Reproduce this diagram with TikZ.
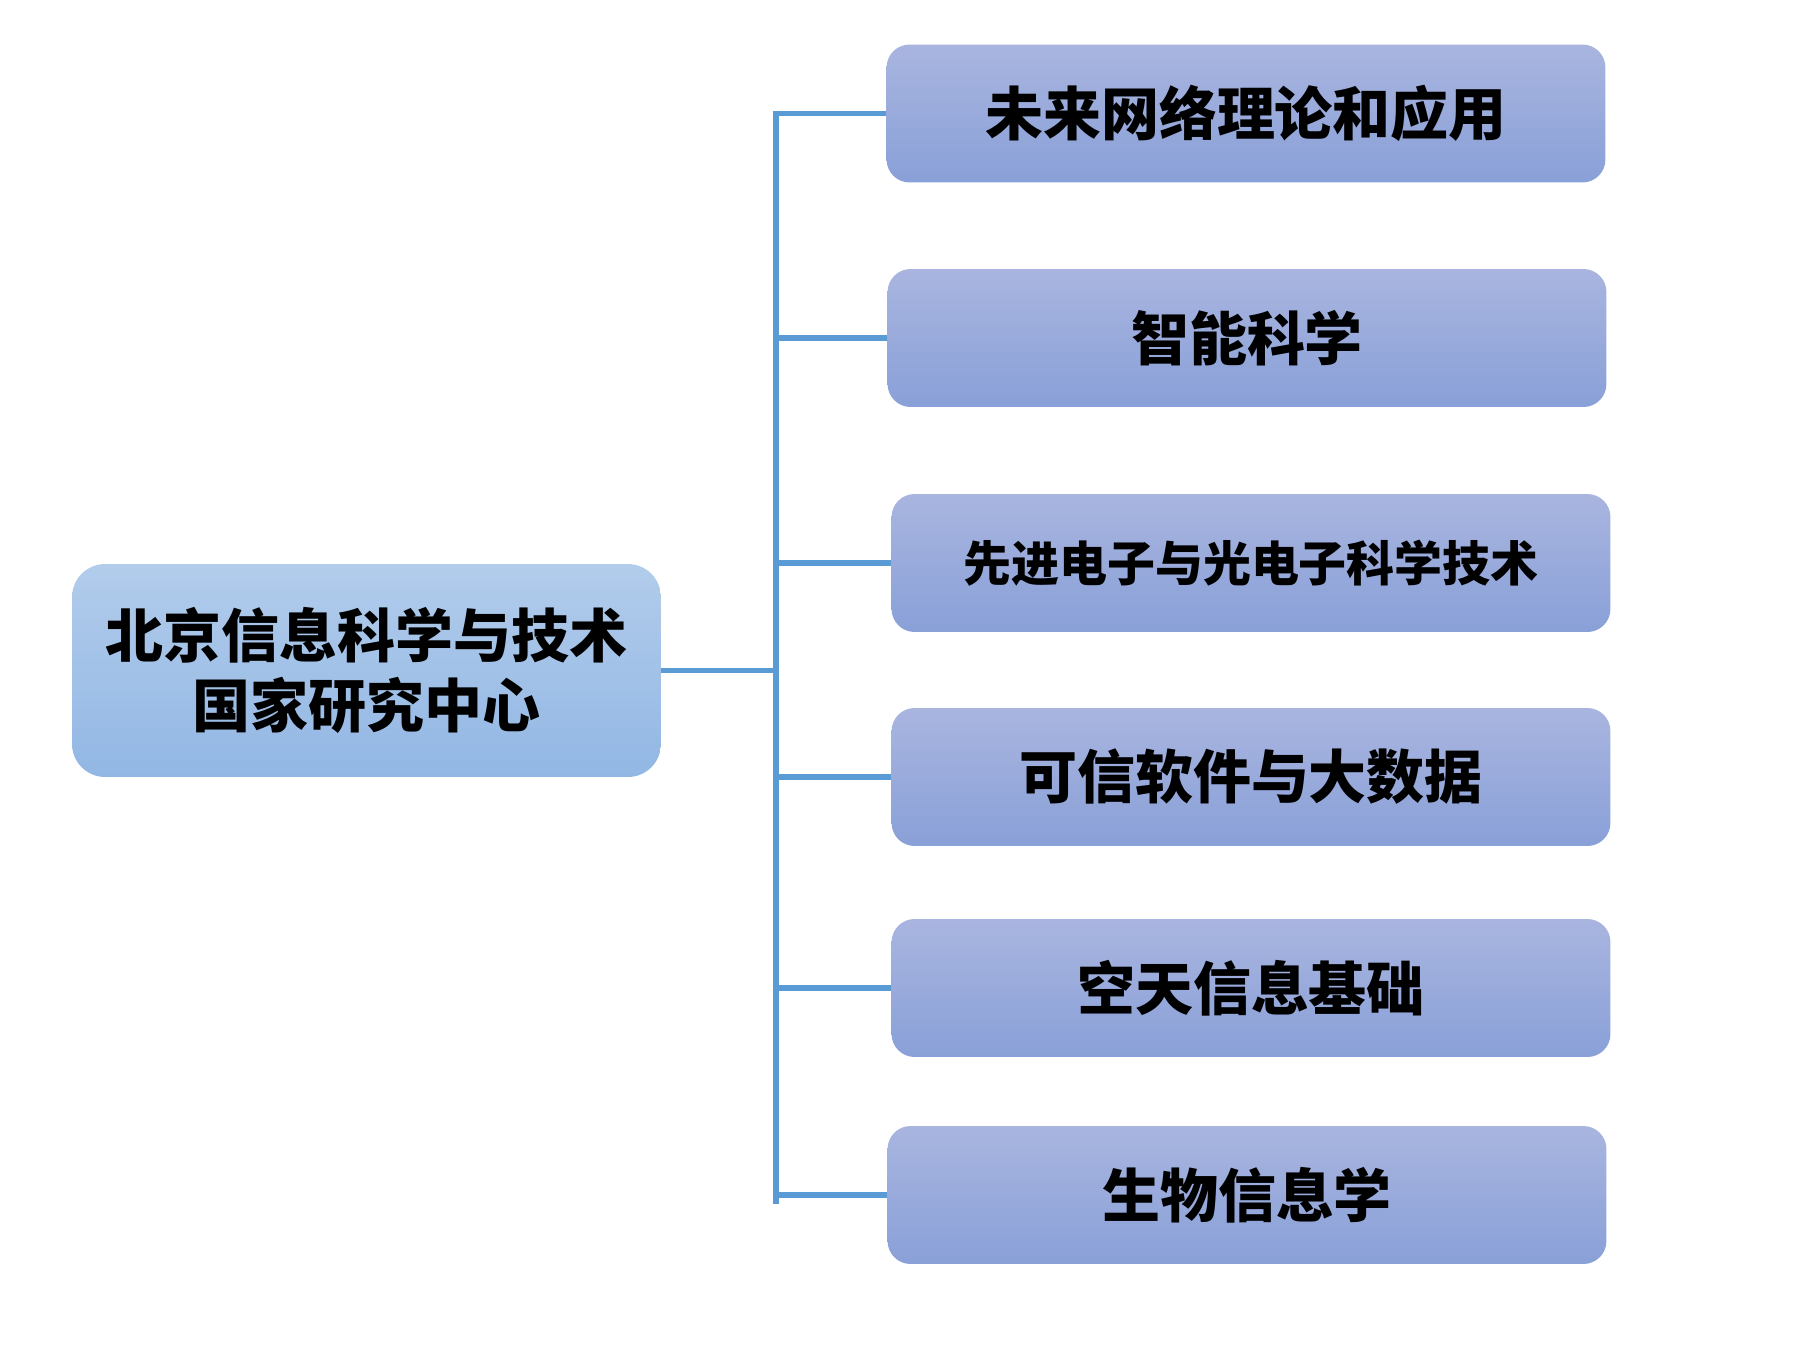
\documentclass[tikz,border=0pt]{standalone}
\usepackage{fontspec}
\newfontfamily\cjk{Noto Sans CJK SC}
\definecolor{boxtop}{RGB}{169,181,223}
\definecolor{boxbot}{RGB}{137,160,216}
\definecolor{roottop}{RGB}{178,204,235}
\definecolor{rootbot}{RGB}{146,183,228}
\definecolor{linkblue}{RGB}{91,155,213}
\tikzset{
	branch/.style={rounded corners=0.46cm, top color=boxtop, bottom color=boxbot, minimum width=14.38cm, minimum height=2.76cm, inner sep=0pt, font=\cjk\bfseries\fontsize{33}{40}\selectfont},
	hub/.style={rounded corners=0.66cm, top color=roottop, bottom color=rootbot, minimum width=11.78cm, minimum height=4.26cm, inner sep=0pt, align=center, font=\cjk\bfseries\fontsize{33}{39.8}\selectfont},
	link/.style={line width=3.4pt, color=linkblue}
}

\begin{document}
\begin{tikzpicture}[x=0.02cm, y=-0.02cm]
			%%%%% START %%%%%
			
			\useasboundingbox (0, 0) rectangle (1816, 1348);
			
			\node[hub] (center) at (366.5, 670.5) {北京信息科学与技术\\国家研究中心};
			
			\node[branch] (net) at (1246, 113.5) {未来网络理论和应用};
			\node[branch] (ai) at (1247, 338) {智能科学};
			\node[branch, font=\cjk\bfseries\fontsize{27.3}{33}\selectfont] (opto) at (1251, 563) {先进电子与光电子科学技术};
			\node[branch] (soft) at (1251, 777) {可信软件与大数据};
			\node[branch] (space) at (1251, 988) {空天信息基础};
			\node[branch] (bio) at (1247, 1195) {生物信息学};
			
			\coordinate (trunk) at (776, 670.5);
			\coordinate (trunktop) at (776, 113.5);
			\coordinate (trunkbot) at (776, 1201);
			
			\draw[link] (center.east) -- (trunk);
			\draw[link, line cap=rect] (trunktop) -- (trunkbot);
			
			\draw[link] (net.west) -- (net.west -| trunk);
			\draw[link] (ai.west) -- (ai.west -| trunk);
			\draw[link] (opto.west) -- (opto.west -| trunk);
			\draw[link] (soft.west) -- (soft.west -| trunk);
			\draw[link] (space.west) -- (space.west -| trunk);
			\draw[link] (bio.west) -- (bio.west -| trunk);
			
			%%%%% END %%%%%
		\end{tikzpicture}
\end{document}
